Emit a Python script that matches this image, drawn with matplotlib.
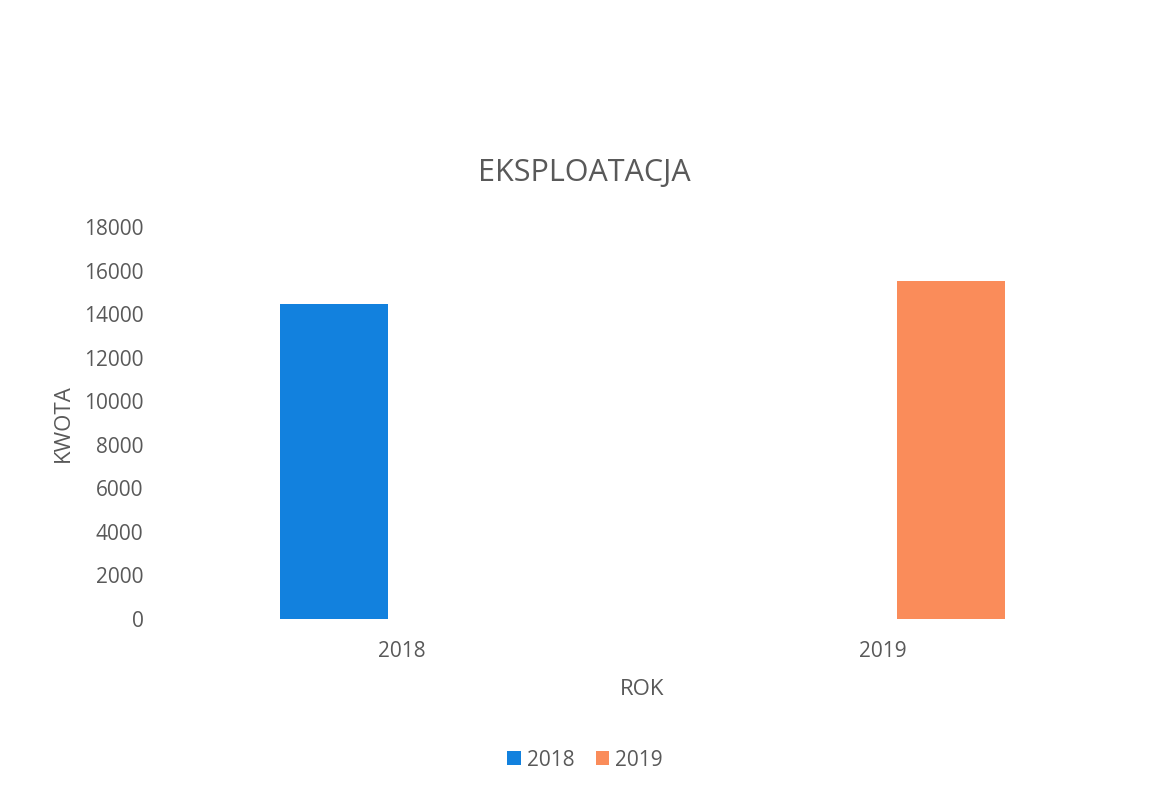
import matplotlib.pyplot as plt
import numpy as np

plt.rcParams['font.family'] = ['Open Sans', 'DejaVu Sans']

categories = ["2018", "2019"]
series_names = ["2018", "2019"]
series_values = {
    "2018": [14450, 0],
    "2019": [0, 15500],
}
colors = ["#1281DE", "#FA8C5A"]
gray = "#595959"

fig = plt.figure(figsize=(11.52, 7.95), dpi=100)
ax = fig.add_axes([0.1402, 0.2214, 0.8351, 0.4931])

x = np.arange(len(categories))
width = 0.225
offsets = [-0.141, 0.141]
for name, off, col in zip(series_names, offsets, colors):
    ax.bar(x + off, series_values[name], width=width, color=col, label=name)

ax.set_xlim(-0.5, 1.5)
ax.set_ylim(0, 18000)
ax.set_yticks(np.arange(0, 18001, 2000))
ax.set_xticks(x)
ax.set_xticklabels(categories)
ax.tick_params(axis='both', length=0, labelsize=15, colors=gray)
ax.tick_params(axis='x', pad=16)
ax.tick_params(axis='y', pad=13)
for s in ax.spines.values():
    s.set_visible(False)

ax.set_xlabel("ROK", fontsize=16, color=gray, labelpad=12)
ax.set_ylabel("KWOTA", fontsize=16, color=gray, labelpad=7)
fig.text(0.507, 0.782, "EKSPLOATACJA", ha='center', va='center', fontsize=22, color=gray)

fig.legend(loc='center', bbox_to_anchor=(0.508, 0.044), ncol=2, frameon=False,
           fontsize=15, handlelength=0.65, handleheight=0.65, handletextpad=0.3,
           columnspacing=1.0, labelcolor=gray)

fig.savefig("out.png", dpi=100)
